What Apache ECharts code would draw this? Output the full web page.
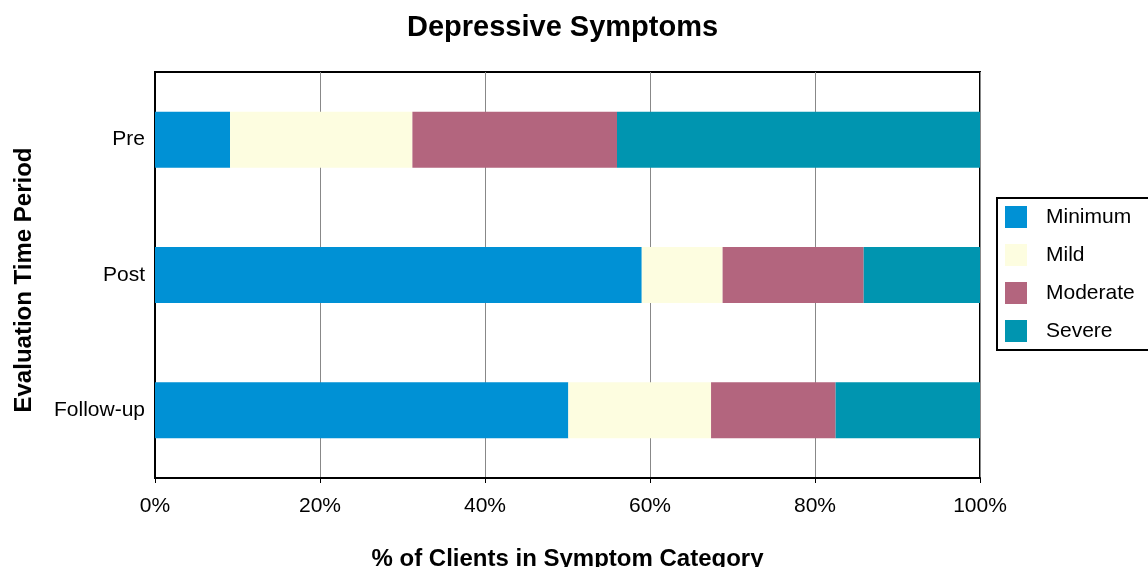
<!DOCTYPE html>
<html>
<head>
<meta charset="utf-8">
<script src="https://cdn.jsdelivr.net/npm/echarts@6/dist/echarts.min.js"></script>
<style>html,body{margin:0;padding:0;background:#fff;}#c{width:1148px;height:567px;}</style>
</head>
<body>
<div id="c"></div>
<script>
var categories = ['Pre', 'Post', 'Follow-up'];
var minimum = [9.1, 59.0, 50.1];
var mild = [22.1, 9.8, 17.3];
var moderate = [24.8, 17.1, 15.1];
var severe = [44.0, 14.1, 17.5];
var xTicks = [0, 20, 40, 60, 80, 100];

var font = 'Liberation Sans, Arial, sans-serif';
var chart = echarts.init(document.getElementById('c'), null, {renderer: 'canvas'});
function s(name, data, color) {
  return {name: name, type: 'bar', stack: 'all', data: data, barWidth: 56,
          itemStyle: {color: color}, emphasis: {disabled: true}};
}
chart.setOption({
  animation: false,
  backgroundColor: '#fff',
  title: {text: 'Depressive Symptoms', left: 402, top: 8,
          textStyle: {fontFamily: font, fontSize: 29, fontWeight: 'bold', color: '#000'}},
  grid: {left: 155, right: 168, top: 72, bottom: 89, show: true, borderColor: '#000', borderWidth: 2,
         outerBoundsMode: 'none', containLabel: false},
  legend: {orient: 'vertical', left: 997, top: 198, itemWidth: 22, itemHeight: 22, itemGap: 16,
           padding: [8, 30, 8, 8], borderColor: '#000', borderWidth: 2, borderRadius: 0,
           icon: 'rect', textStyle: {fontFamily: font, fontSize: 21, color: '#000', padding: [0, 0, 0, 14]},
           data: ['Minimum', 'Mild', 'Moderate', 'Severe']},
  xAxis: {type: 'value', min: xTicks[0], max: xTicks[xTicks.length - 1], interval: 20,
          name: '% of Clients in Symptom Category', nameLocation: 'middle', nameGap: 69,
          nameTextStyle: {fontFamily: font, fontSize: 24, fontWeight: 'bold', color: '#000'},
          axisLine: {show: true, lineStyle: {color: '#000', width: 2}},
          axisTick: {show: true, length: 5, lineStyle: {color: '#000'}},
          axisLabel: {formatter: '{value}%', fontFamily: font, fontSize: 21, color: '#000', margin: 18},
          splitLine: {show: true, lineStyle: {color: '#888', width: 1}}},
  yAxis: {type: 'category', data: categories, inverse: true,
          name: 'Evaluation Time Period', nameLocation: 'middle', nameGap: 119,
          nameTextStyle: {fontFamily: font, fontSize: 24, fontWeight: 'bold', color: '#000', padding: [0, 10, 0, 0]},
          axisLine: {show: true, lineStyle: {color: '#000', width: 2}},
          axisTick: {show: false},
          axisLabel: {fontFamily: font, fontSize: 21, color: '#000', margin: 10},
          splitLine: {show: false}},
  series: [
    s('Minimum', minimum, '#0091d5'),
    s('Mild', mild, '#fdfde0'),
    s('Moderate', moderate, '#b3657e'),
    s('Severe', severe, '#0095b0')
  ]
});
</script>
</body>
</html>
